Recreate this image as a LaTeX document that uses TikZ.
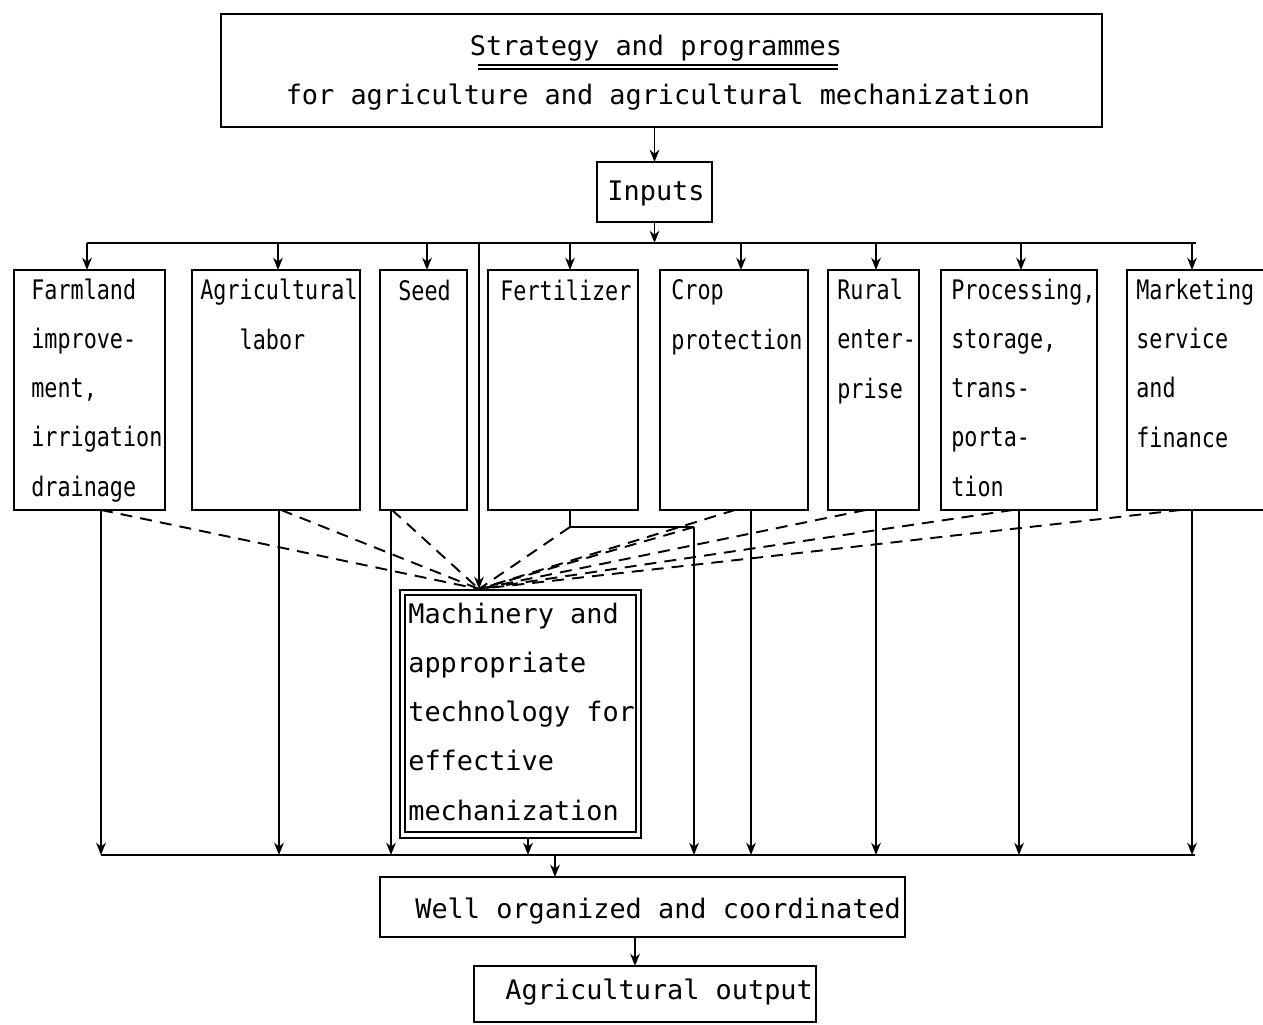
\documentclass[tikz,border=0pt]{standalone}
\usepackage{fontspec}
\usetikzlibrary{arrows.meta}
\newfontfamily\mainmono{DejaVu Sans Mono}
\newfontfamily\narrowmono{DejaVu Sans Mono}[FakeStretch=0.81]

\begin{document}
\begin{tikzpicture}[x=0.02cm, y=-0.02cm,
  box/.style={draw, line width=1.1pt, inner sep=0pt, outer sep=0pt, anchor=north west},
  wire/.style={line width=0.9pt},
  feed/.style={wire, -{Stealth[length=7pt,width=5.5pt]}},
  hint/.style={line width=1.1pt, dash pattern=on 6.8pt off 4.6pt},
  bus/.style={line width=1.3pt},
  maintxt/.style={font=\mainmono\fontsize{15.3}{27.9}\selectfont, inner sep=0pt, align=left},
  labeltxt/.style={font=\narrowmono\fontsize{15.3}{27.9}\selectfont, inner sep=0pt, align=left, anchor=base west},
]
\useasboundingbox (0,0) rectangle (1263,1024);
\clip (0,0) rectangle (1263,1024);

% ---------- header ----------
\node[box, minimum width=17.62cm, minimum height=2.26cm] (strat) at (221,14) {};
\node[maintxt, anchor=base] (stratA) at (656,56) {Strategy and programmes};
\node[maintxt, anchor=base] (stratB) at (658,105) {for agriculture and agricultural mechanization};
\draw[line width=0.6pt] (478,65) -- (838,65);
\draw[line width=1.0pt] (478,69) -- (838,69);

\node[box, minimum width=2.30cm, minimum height=1.20cm] (inputs) at (597,162) {};
\node[maintxt, anchor=base] (inputsT) at (656,200) {Inputs};

% ---------- input categories ----------
\node[box, minimum width=3.02cm, minimum height=4.80cm] (farm)   at (14,270) {};
\node[box, minimum width=3.36cm, minimum height=4.80cm] (labor)  at (192,270) {};
\node[box, minimum width=1.74cm, minimum height=4.80cm] (seed)   at (380,270) {};
\node[box, minimum width=3.00cm, minimum height=4.80cm] (fert)   at (488,270) {};
\node[box, minimum width=2.96cm, minimum height=4.80cm] (crop)   at (660,270) {};
\node[box, minimum width=1.82cm, minimum height=4.80cm] (rural)  at (828,270) {};
\node[box, minimum width=3.12cm, minimum height=4.80cm] (proc)   at (941,270) {};
\node[box, minimum width=2.96cm, minimum height=4.80cm] (market) at (1127,270) {};

% labels are placed by the baseline of their last line (49 units per line)
\node[labeltxt] (farmT)   at (31,496)   {Farmland\\improve-\\ment,\\irrigation\\drainage};
\node[labeltxt] (laborT)  at (200,349)  {Agricultural\\\phantom{Agr}labor};
\node[labeltxt] (seedT)   at (398,300)  {Seed};
\node[labeltxt] (fertT)   at (500,300)  {Fertilizer};
\node[labeltxt] (cropT)   at (671,349)  {Crop\\protection};
\node[labeltxt] (ruralT)  at (837,398)  {Rural\\enter-\\prise};
\node[labeltxt] (procT)   at (951,496)  {Processing,\\storage,\\trans-\\porta-\\tion};
\node[labeltxt] (marketT) at (1136,447) {Marketing\\service\\and\\finance};

% ---------- machinery ----------
\node[box, line width=1.4pt, minimum width=4.82cm, minimum height=4.96cm] (mach) at (400,590) {};
\node[box, line width=0.8pt, minimum width=4.62cm, minimum height=4.74cm] (machin) at (405,595) {};
\node[maintxt, anchor=base west] (machT) at (408,820)
  {Machinery and\\appropriate\\technology for\\effective\\mechanization};

% ---------- results ----------
\node[box, minimum width=10.50cm, minimum height=1.20cm] (well) at (380,877) {};
\node[maintxt, anchor=base west] (wellT) at (415,918) {Well organized and coordinated};
\node[box, minimum width=6.84cm, minimum height=1.12cm] (output) at (474,966) {};
\node[maintxt, anchor=base west] (outputT) at (505,999) {Agricultural output};

% ---------- column positions ----------
\coordinate (busL) at (87,243);   \coordinate (busR) at (1196,243);
\coordinate (lowL) at (101,855);  \coordinate (lowR) at (1195,855);
\coordinate (tFarm) at (87,0);    \coordinate (tLabor) at (278,0);
\coordinate (tSeed) at (427,0);   \coordinate (tFert) at (570,0);
\coordinate (tCrop) at (741,0);   \coordinate (tRural) at (876,0);
\coordinate (tProc) at (1021,0);  \coordinate (tMarket) at (1192,0);
\coordinate (tMach) at (479,0);
\coordinate (bFarm) at (101,0);   \coordinate (bLabor) at (279,0);
\coordinate (bSeed) at (391,0);   \coordinate (bCrop) at (751,0);
\coordinate (bRural) at (876,0);  \coordinate (bProc) at (1019,0);
\coordinate (bMarket) at (1192,0);\coordinate (bMach) at (528,0);
\coordinate (bWell) at (555,0);   \coordinate (bOut) at (635,0);
\coordinate (dLabor) at (281,0);  \coordinate (dSeed) at (392,0);
\coordinate (dCrop) at (735,0);   \coordinate (dRural) at (866,0);
\coordinate (dProc) at (1013,0);  \coordinate (dMarket) at (1181,0);
\coordinate (fbL) at (570,527);   \coordinate (fbR) at (694,527);
\coordinate (conv) at (479,589);

% header to inputs to distribution bus
\draw[feed] (strat.south -| inputs.north) -- (inputs.north);
\draw[feed] (inputs.south) -- (inputs.south |- busL);
\draw[bus] (busL) -- (busR);
\foreach \c/\b in {tFarm/farm, tLabor/labor, tSeed/seed, tFert/fert,
                   tCrop/crop, tRural/rural, tProc/proc, tMarket/market}
  \draw[feed] (busL -| \c) -- (\b.north -| \c);
\draw[feed] (busL -| tMach) -- (conv);

% dashed contributions to machinery
\draw[wire] (fert.south -| fbL) -- (fbL) -- (fbR);
\foreach \c/\b in {bFarm/farm, dLabor/labor, dSeed/seed, dCrop/crop,
                   dRural/rural, dProc/proc, dMarket/market}
  \draw[hint] (\b.south -| \c) -- (conv);
\draw[hint] (fbL) -- (conv);
\draw[hint] (fbR) -- (conv);

% collection bus
\foreach \c/\b in {bFarm/farm, bLabor/labor, bSeed/seed, bCrop/crop,
                   bRural/rural, bProc/proc, bMarket/market}
  \draw[feed] (\b.south -| \c) -- (lowL -| \c);
\draw[feed] (fbR) -- (lowL -| fbR);
\draw[feed] (mach.south -| bMach) -- (lowL -| bMach);
\draw[bus] (lowL) -- (lowR);

% to results
\draw[feed] (lowL -| bWell) -- (well.north -| bWell);
\draw[feed] (well.south -| bOut) -- (output.north -| bOut);
\end{tikzpicture}
\end{document}
